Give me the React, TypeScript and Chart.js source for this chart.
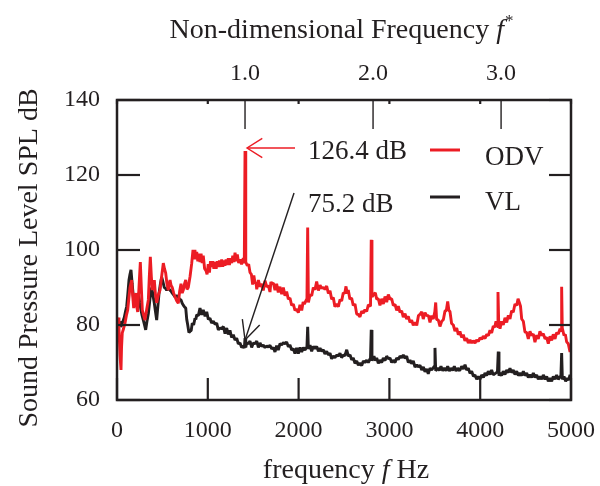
import { useEffect, useRef } from 'react';
import { Chart, registerables } from 'chart.js';

Chart.register(...registerables);

const FREQ_TICKS = [0, 1000, 2000, 3000, 4000, 5000];
const SPL_TICKS = [60, 80, 100, 120, 140];
const FSTAR_TICKS = [1, 2, 3];
const FSTAR_LABELS = ['1.0', '2.0', '3.0'];
const F_REF = 1410; // Hz at f* = 1
const PEAK_F = 1410;
const PEAK_ODV = 126.4;
const PEAK_VL = 75.2;

const ODV: [number, number][] = [
  [0,80],[12,82],[22,78.7],[33,72],[44,68],[50,74],[58,77.9],[72,79],[88,80.5],[103,82.5],[118,84],[130,87],[143,90],[152,91],[162,92],[172,88],[184,84.5],[195,87],[206,88.5],[217,85],[228,83.5],[242,90],[257,96.8],[268,90],[279,84],[294,82.5],[308,81.3],[326,84],[345,86.7],[356,93],[367,98.2],[378,93],[389,89.3],[400,91],[411,92],[424,88],[437,85.9],[455,88],[474,89.3],[492,93],[510,96.5],[523,95],[536,93.9],[550,91],[565,89.3],[575,91],[584,92],[596,90.5],[609,90],[624,88.5],[639,87.5],[657,86.5],[675,85.8],[690,89],[705,91],[718,88.5],[730,89.3],[744,91],[757,92],[771,89.5],[785,90],[805,93],[823,96.5],
  [837,100],[848,97.5],[858,100],[868,97.5],[878,99.5],[890,97],[902,99],[914,96.8],[926,99],[938,96.5],[950,98.5],[965,95],[980,94.5],[992,93.5],[1005,96.2],[1018,94],[1030,97],[1043,95.5],[1055,97],[1067,95],[1079,96.8],[1092,95],[1104,97],[1116,95.5],[1128,97.2],[1141,95.5],[1153,97.5],[1165,95.5],[1177,97.2],[1189,95.8],[1201,97.5],[1214,96],[1226,97.8],[1238,96],[1250,97.8],[1263,96.5],[1275,98.5],[1288,96.8],[1300,99.3],[1312,97],[1325,98.8],[1340,96.5],[1355,97.5],[1372,96.2],[1391,97.8],[1402,96.5],[1410,126.4],[1418,96.8],[1435,95.8],[1450,96.2],[1465,94],[1480,93.5],[1494,90.8],[1507,93.2],[1520,91.2],[1530,91.5],[1539,89.5],[1557,92],[1575,90.2],[1593,91],[1611,89.2],[1630,91.8],[1649,90.2],[1667,90.5],[1685,88.8],[1695,91.5],[1704,91],[1722,91.2],[1740,89.3],[1758,91],[1776,88.7],[1795,90.2],[1814,88.2],[1832,90],[1850,87.8],[1868,88.9],[1887,86.9],[1905,87.2],[1924,85.2],[1942,85.6],[1960,83.9],[1978,84.2],[1997,83.3],[2015,85.4],[2034,83.9],[2050,86.1],[2063,85.6],[2092,87],[2100,106],[2108,86],[2126,88.1],[2144,87.8],[2162,90],[2180,89.4],[2199,91.6],[2218,89.2],[2236,90.6],[2254,89.8],[2272,90],[2290,89.5],[2309,90.4],[2328,88.4],[2346,89.1],[2364,86.9],[2382,87.3],[2400,84.9],[2420,85.6],[2438,84.9],[2456,86.8],[2474,86.4],[2492,88.6],[2508,88.4],[2522,90.3],[2535,88.4],[2547,89.3],[2565,86.9],[2584,87.2],[2602,85.2],[2621,85.6],[2640,82.9],[2657,82.8],[2676,82.2],[2695,83.7],[2713,83.2],[2731,84.1],[2750,83.6],[2768,85.4],[2792,85],[2800,102.7],[2808,87.5],[2830,88.2],[2845,88.6],[2860,86.9],[2878,87],[2896,85.2],[2915,87],[2933,85.6],[2952,87.6],[2970,86.1],[2988,88.1],[3007,86.9],[3025,87],[3043,85.2],[3062,85.5],[3080,83.9],[3098,85],[3117,83.4],[3135,83.8],[3153,82.1],[3172,83],[3190,81.6],[3208,82.3],[3227,80.7],[3245,81.3],[3263,79.9],[3282,80.7],[3301,79.9],[3320,82.5],[3340,82.9],[3356,83.5],[3373,81.6],[3392,83.3],[3411,82.5],[3430,82.5],[3447,80.7],[3465,82.5],[3483,81.6],[3500,83.5],[3510,86],[3520,81.5],[3539,81.3],[3557,79.6],[3576,81],[3594,81.4],[3612,83.7],[3627,83.9],[3642,86.3],[3655,83.9],[3667,83.6],[3685,80.4],[3704,80],[3722,78.4],[3741,79.2],[3759,77.4],[3777,78.3],[3795,76.7],[3814,77.4],[3832,75.8],[3851,76.5],[3869,75.2],[3888,76],[3906,75.2],[3924,75.8],[3943,75.2],[3961,76],[3980,75.6],[3998,76.6],[4016,76.2],[4034,77],[4053,76.4],[4072,77.5],[4090,77.2],[4108,78.6],[4126,77.9],[4144,79.7],[4160,79.4],[4174,81],[4188,79.6],[4196,88.8],[4204,80.5],[4218,79],[4236,81],[4254,80],[4273,81.9],[4292,80.7],[4310,82.6],[4328,81.6],[4346,83.8],[4364,83.4],[4383,85.6],[4402,85.2],[4417,87],[4431,86],[4444,85],[4457,81.6],[4475,81],[4493,78.1],[4512,78],[4530,76.3],[4548,78.3],[4567,77.2],[4585,77.6],[4603,75.4],[4622,77.3],[4640,76.3],[4658,78.3],[4677,77.2],[4695,77.7],[4714,76.3],[4732,76.7],[4750,75],[4769,77],[4787,75.9],[4805,77.5],[4824,76.3],[4842,78],[4860,77.6],[4880,79],[4890,78.5],[4897,90.2],[4904,79.2],[4923,77.2],[4938,77.5],[4952,75.5],[4970,75],[4989,72.8],[5000,74]
];

const VL: [number, number][] = [
  [5,78],[15,81],[25,80.5],[33,81],[42,79.5],[52,80],[66,81],[80,82],[93,83.5],[107,85],[120,88.5],[132,92],[143,93.5],[154,94.7],[167,91],[180,87.5],[193,86],[206,85],[220,87],[235,88.5],[250,86],[264,84],[277,82.5],[290,81.3],[303,80],[316,78.7],[330,81],[345,83],[363,87],[382,90],[396,88],[411,85.8],[424,83.5],[437,81.3],[450,85],[463,88.5],[478,91],[492,92.8],[506,91.5],[521,90],[534,89.8],[547,89.3],[565,89.8],[584,89.3],[596,89],[609,88.5],[624,88],[639,87.5],[657,87.8],[675,87.5],[690,86.8],[705,86.7],[718,85.8],[730,85.3],[744,84.8],
  [757,84.5],[768,81.5],[779,80],[792,78],[804,78.3],[817,78.5],[829,80.5],[844,80],[859,81.8],[868,81.5],[878,82.7],[896,82.5],[914,84.5],[932,82.7],[950,84],[970,82.3],[988,83.5],[1006,81.5],[1024,81.8],[1042,80.5],[1061,81],[1080,80.2],[1098,80.5],[1116,78.7],[1134,79.2],[1152,79],[1171,79.6],[1190,77.7],[1208,79.2],[1226,77.5],[1244,78.6],[1262,76.7],[1281,77.4],[1300,76],[1318,76.5],[1336,75],[1355,75.2],[1373,74],[1391,74.4],[1402,73.8],[1410,76.5],[1418,74],[1428,75.2],[1446,75],[1465,75.7],[1483,74],[1501,75.2],[1520,75],[1539,75.7],[1557,74],[1575,75.2],[1593,74.3],[1611,74.6],[1630,74],[1649,74.4],[1667,74.1],[1685,74.6],[1704,73.6],[1722,74],[1740,72.8],[1758,74.5],[1776,73.3],[1795,75],[1814,74.7],[1832,75.3],[1850,75],[1868,75.5],[1887,74.2],[1905,74.7],[1924,73.3],[1942,73.7],[1960,72.4],[1978,73.9],[1997,72.4],[2015,74],[2034,72.8],[2052,74],[2070,73.3],[2092,74.2],[2100,79.5],[2108,73.6],[2126,74.6],[2144,73],[2162,74.3],[2180,73.7],[2199,74.3],[2218,73],[2236,73.8],[2254,73],[2272,73.4],[2290,72.3],[2309,73],[2328,72],[2346,72.5],[2364,71],[2382,71.7],[2400,71.3],[2420,72],[2438,71.7],[2456,72.5],[2474,71.3],[2492,72],[2510,71.8],[2530,73.4],[2548,71.7],[2567,72],[2585,70.7],[2602,71.2],[2621,69.8],[2640,70.4],[2658,69.3],[2676,69.8],[2695,69.2],[2713,70.4],[2731,70],[2750,70.6],[2768,70],[2792,71.2],[2800,78.7],[2808,70.5],[2830,71.7],[2845,70.5],[2860,71.2],[2878,69.8],[2896,70.6],[2915,70],[2933,71.2],[2952,70.5],[2970,71.7],[2988,71],[3007,71.2],[3025,70],[3043,70.6],[3062,70],[3080,71.2],[3098,70.8],[3117,71.7],[3135,71.3],[3153,72],[3172,71.1],[3190,71.7],[3208,70],[3227,70.6],[3245,69.7],[3263,70.4],[3282,68.8],[3301,69.4],[3318,68.8],[3337,69.3],[3356,68],[3374,68.8],[3392,67.5],[3410,68.3],[3428,67],[3447,68.5],[3466,68],[3494,69],[3502,73.9],[3510,67.8],[3532,68.5],[3550,67.9],[3568,69],[3587,67.8],[3605,68.5],[3624,67.8],[3642,69],[3660,67.7],[3678,68.5],[3697,67.9],[3715,69],[3734,67.7],[3752,68.5],[3774,67.8],[3796,69],[3815,68.3],[3833,69.4],[3851,68],[3869,68.5],[3888,67.1],[3906,67.7],[3925,66.3],[3943,66.7],[3961,65.5],[3979,66.3],[3998,65.5],[4016,66.7],[4035,66],[4053,67.2],[4071,66.5],[4089,67.7],[4108,66.8],[4126,68],[4144,66.7],[4190,67.5],[4199,72.9],[4207,66.5],[4218,67.2],[4236,66.5],[4254,67.7],[4273,66.8],[4292,68],[4310,67.3],[4328,68.5],[4346,67.3],[4364,68],[4383,66.8],[4402,67.7],[4420,66.5],[4438,67.2],[4457,66.5],[4475,67.7],[4493,66.5],[4512,67.2],[4530,66],[4548,66.7],[4567,66],[4585,67.2],[4604,66],[4622,66.7],[4640,65.5],[4658,66.3],[4677,65.5],[4695,66.7],[4714,65.5],[4732,66.3],[4750,65],[4769,65.8],[4787,65],[4805,66.3],[4824,65.5],[4842,66.7],[4860,65.5],[4889,66.5],[4897,72.5],[4905,65.5],[4923,66.3],[4941,65],[4959,65.8],[4975,65.3],[4989,66.7],[5000,65.5]
];

const INK = '#231f20';
const RED = '#ec1c24';
const FONT = '"Liberation Serif", "Times New Roman", Times, serif';
const FS = 24; // tick labels
const TFS = 28; // titles
const LFS = 27; // legend / annotations

function line(ctx: CanvasRenderingContext2D, x1: number, y1: number, x2: number, y2: number) {
  ctx.beginPath();
  ctx.moveTo(x1, y1);
  ctx.lineTo(x2, y2);
  ctx.stroke();
}

function arrowHead(ctx: CanvasRenderingContext2D, tx: number, ty: number, angle: number, spread: number, len: number) {
  ctx.beginPath();
  ctx.moveTo(tx + len * Math.cos(angle - spread), ty + len * Math.sin(angle - spread));
  ctx.lineTo(tx, ty);
  ctx.lineTo(tx + len * Math.cos(angle + spread), ty + len * Math.sin(angle + spread));
  ctx.stroke();
}

function drawSegments(ctx: CanvasRenderingContext2D, segs: { t: string; italic?: boolean; sup?: boolean }[], cx: number, baseline: number) {
  const fontFor = (s: { italic?: boolean; sup?: boolean }) =>
    `${s.italic ? 'italic ' : ''}${s.sup ? Math.round(TFS * 0.6) : TFS}px ${FONT}`;
  let total = 0;
  const widths = segs.map((s) => {
    ctx.font = fontFor(s);
    const w = ctx.measureText(s.t).width;
    total += w;
    return w;
  });
  let x = cx - total / 2;
  ctx.textAlign = 'left';
  ctx.textBaseline = 'alphabetic';
  segs.forEach((s, i) => {
    ctx.font = fontFor(s);
    ctx.fillText(s.t, x + (s.sup ? 1 : 0), s.sup ? baseline - TFS * 0.42 : baseline);
    x += widths[i];
  });
}

const decorPlugin = {
  id: 'decor',
  afterDraw(chart: any) {
    const { ctx, chartArea: a, scales } = chart;
    const sx = scales.x;
    const sy = scales.y;
    const s2 = scales.x2;
    ctx.save();
    ctx.strokeStyle = INK;
    ctx.fillStyle = INK;
    ctx.lineCap = 'butt';

    // ticks (inward)
    ctx.lineWidth = 2.2;
    SPL_TICKS.forEach((v) => {
      const py = sy.getPixelForValue(v);
      line(ctx, a.left, py, a.left + 23, py);
      line(ctx, a.right - 22, py, a.right, py);
    });
    FREQ_TICKS.forEach((v) => {
      const px = sx.getPixelForValue(v);
      line(ctx, px, a.bottom, px, a.bottom - 22);
      line(ctx, px, a.top, px, a.top + 4);
    });
    ctx.lineWidth = 1.4;
    FSTAR_TICKS.forEach((v) => {
      const px = s2.getPixelForValue(v);
      line(ctx, px, a.top, px, a.top + 29);
    });

    // frame
    ctx.lineWidth = 2.5;
    ctx.strokeRect(a.left, a.top, a.right - a.left, a.bottom - a.top);

    // axis titles
    drawSegments(ctx, [{ t: 'Non-dimensional Frequency ' }, { t: 'f', italic: true }, { t: '*', sup: true }], 341, 38);
    drawSegments(ctx, [{ t: 'frequency ' }, { t: 'f', italic: true }, { t: ' Hz' }], 346, 478);
    ctx.save();
    ctx.translate(37, 258);
    ctx.rotate(-Math.PI / 2);
    ctx.font = `${TFS}px ${FONT}`;
    ctx.textAlign = 'center';
    ctx.textBaseline = 'alphabetic';
    ctx.fillText('Sound Pressure Level SPL dB', 0, 0);
    ctx.restore();

    // legend
    ctx.font = `${LFS}px ${FONT}`;
    ctx.textAlign = 'left';
    ctx.textBaseline = 'alphabetic';
    ctx.lineWidth = 3;
    ctx.strokeStyle = RED;
    line(ctx, 430, 150, 460, 150);
    ctx.strokeStyle = INK;
    line(ctx, 430, 197, 460, 197);
    ctx.fillText(chart.data.datasets[0].label, 485, 165);
    ctx.fillText(chart.data.datasets[1].label, 485, 210);

    // annotations
    const px = sx.getPixelForValue(PEAK_F);
    const pyR = sy.getPixelForValue(PEAK_ODV) - 3;
    ctx.strokeStyle = RED;
    ctx.lineWidth = 1.4;
    line(ctx, px + 2, pyR, px + 50, pyR);
    arrowHead(ctx, px + 2, pyR, 0, 0.56, 18);
    ctx.fillText(`${PEAK_ODV} dB`, 308, 159);

    const pyB = sy.getPixelForValue(PEAK_VL) - 3;
    const ex = px + 49;
    const ey = 193;
    ctx.strokeStyle = INK;
    line(ctx, px, pyB, ex, ey);
    arrowHead(ctx, px, pyB, Math.atan2(ey - pyB, ex - px), 0.45, 21);
    ctx.fillText(`${PEAK_VL} dB`, 308, 212);
    ctx.restore();
  },
};

export default function App() {
  const ref = useRef<HTMLCanvasElement | null>(null);
  useEffect(() => {
    document.body.style.margin = '0';
    const canvas = ref.current;
    if (!canvas) return;
    const tickFont = { family: FONT, size: FS };
    const noPad = (s: any) => { s.paddingLeft = 0; s.paddingRight = 0; s.paddingTop = 0; s.paddingBottom = 0; };
    const chart = new Chart(canvas, {
      type: 'line',
      data: {
        datasets: [
          {
            label: 'ODV',
            data: ODV.map(([x, y]) => ({ x, y })),
            borderColor: RED,
            borderWidth: 2.9,
            borderJoinStyle: 'bevel',
            pointRadius: 0,
            tension: 0,
            xAxisID: 'x',
            yAxisID: 'y',
          },
          {
            label: 'VL',
            data: VL.map(([x, y]) => ({ x, y })),
            borderColor: INK,
            borderWidth: 2.9,
            borderJoinStyle: 'bevel',
            pointRadius: 0,
            tension: 0,
            xAxisID: 'x',
            yAxisID: 'y',
          },
        ],
      },
      options: {
        animation: false,
        responsive: false,
        devicePixelRatio: 1,
        events: [],
        layout: { padding: { left: 0, right: 29, top: 0, bottom: 0 } },
        plugins: { legend: { display: false }, tooltip: { enabled: false } },
        scales: {
          x: {
            type: 'linear',
            position: 'bottom',
            min: 0,
            max: 5000,
            grid: { display: false, drawTicks: false, tickLength: 0 },
            border: { display: false },
            afterBuildTicks: (s: any) => { s.ticks = FREQ_TICKS.map((v) => ({ value: v })); },
            afterFit: (s: any) => { s.height = 86; noPad(s); },
            ticks: { font: tickFont, color: INK, padding: 16, maxRotation: 0, autoSkip: false, callback: (v: any) => String(v) },
          },
          x2: {
            type: 'linear',
            position: 'top',
            min: 0,
            max: 5000 / F_REF,
            grid: { display: false, drawTicks: false, tickLength: 0 },
            border: { display: false },
            afterBuildTicks: (s: any) => { s.ticks = FSTAR_TICKS.map((v) => ({ value: v })); },
            afterFit: (s: any) => { s.height = 100; noPad(s); },
            ticks: {
              font: tickFont, color: INK, padding: 12, maxRotation: 0, autoSkip: false,
              callback: (v: any) => FSTAR_LABELS[FSTAR_TICKS.indexOf(v)] ?? '',
            },
          },
          y: {
            type: 'linear',
            position: 'left',
            min: 60,
            max: 140,
            grid: { display: false, drawTicks: false, tickLength: 0 },
            border: { display: false },
            afterBuildTicks: (s: any) => { s.ticks = SPL_TICKS.map((v) => ({ value: v })); },
            afterFit: (s: any) => { s.width = 117; noPad(s); },
            ticks: { font: tickFont, color: INK, padding: 17, autoSkip: false, callback: (v: any) => String(v) },
          },
        },
      },
      plugins: [decorPlugin],
    });
    return () => chart.destroy();
  }, []);
  return (
    <div style={{ width: 600, height: 486, background: '#fff' }}>
      <canvas ref={ref} width={600} height={486} style={{ display: 'block', width: 600, height: 486 }} />
    </div>
  );
}
